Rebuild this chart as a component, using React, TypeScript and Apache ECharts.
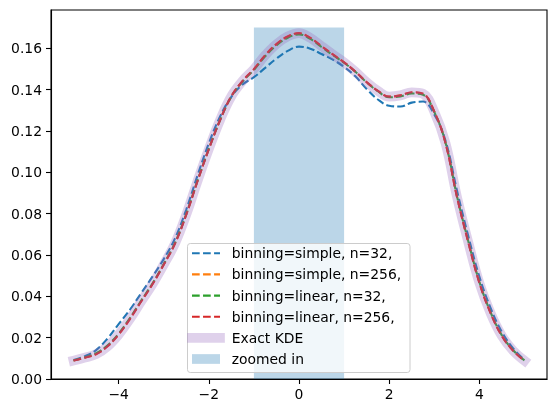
import React, { useEffect, useRef } from "react";
import * as echarts from "echarts";

const xs = [
  -5, -4.75, -4.5, -4.25, -4, -3.75, -3.5, -3.25, -3, -2.75, -2.5, -2.25, -2, -1.75, -1.5, -1.25, -1, -0.75, -0.5, -0.25,
  0, 0.25, 0.5, 0.75, 1, 1.25, 1.5, 1.75, 2, 2.25, 2.5, 2.75, 3, 3.25, 3.5, 3.75, 4, 4.25, 4.5, 4.75, 5,
];

const exactKde = [
  0.0089, 0.0103, 0.012, 0.0157, 0.0215, 0.029, 0.0375, 0.0458, 0.0553, 0.0655, 0.0795, 0.0958, 0.1112, 0.1253, 0.1368, 0.1442, 0.1499, 0.1566, 0.162, 0.1657,
  0.1673, 0.165, 0.161, 0.157, 0.1532, 0.1487, 0.1436, 0.1394, 0.1366, 0.1372, 0.1387, 0.138, 0.1293, 0.114, 0.0884, 0.0665, 0.0465, 0.0318, 0.0208, 0.0137, 0.0089,
];

const simple32 = [
  0.0092, 0.011, 0.014, 0.0195, 0.0265, 0.0335, 0.0415, 0.0495, 0.058, 0.068, 0.082, 0.0985, 0.114, 0.127, 0.1365, 0.1425, 0.146, 0.1505, 0.155, 0.1587,
  0.1608, 0.1598, 0.1572, 0.1545, 0.151, 0.1464, 0.1403, 0.1352, 0.1322, 0.1318, 0.1337, 0.1342, 0.128, 0.1152, 0.0915, 0.0695, 0.0495, 0.0343, 0.0227, 0.0148, 0.0093,
];

const simple256 = [
  0.0089, 0.0103, 0.0121, 0.0158, 0.0216, 0.0291, 0.0376, 0.0459, 0.0554, 0.0656, 0.0796, 0.0958, 0.1112, 0.1253, 0.1368, 0.1442, 0.1499, 0.1566, 0.162, 0.1657,
  0.1672, 0.165, 0.161, 0.157, 0.1532, 0.1487, 0.1436, 0.1394, 0.1366, 0.1372, 0.1386, 0.138, 0.1294, 0.1141, 0.0885, 0.0666, 0.0466, 0.0319, 0.0209, 0.0137, 0.0089,
];

const linear32 = [
  0.009, 0.0105, 0.0125, 0.0162, 0.022, 0.0295, 0.0379, 0.0462, 0.0556, 0.0658, 0.0798, 0.096, 0.1113, 0.1252, 0.1366, 0.1439, 0.1495, 0.1561, 0.1614, 0.1651,
  0.1667, 0.1645, 0.1606, 0.1567, 0.153, 0.1486, 0.1435, 0.1392, 0.1363, 0.1367, 0.1381, 0.1375, 0.1292, 0.1143, 0.0888, 0.067, 0.047, 0.0322, 0.0211, 0.0139, 0.009,
];

const linear256 = [
  0.0089, 0.0103, 0.012, 0.0157, 0.0215, 0.029, 0.0375, 0.0458, 0.0553, 0.0655, 0.0795, 0.0958, 0.1112, 0.1253, 0.1368, 0.1442, 0.1499, 0.1566, 0.162, 0.1657,
  0.1673, 0.165, 0.161, 0.157, 0.1532, 0.1487, 0.1436, 0.1394, 0.1366, 0.1372, 0.1387, 0.138, 0.1293, 0.114, 0.0884, 0.0665, 0.0465, 0.0318, 0.0208, 0.0137, 0.0089,
];

const zoomStart = -1;
const zoomEnd = 1;
const zoomTop = 0.17;

const xTicks = [-4, -2, 0, 2, 4];
const yTicks = [0, 0.02, 0.04, 0.06, 0.08, 0.1, 0.12, 0.14, 0.16];

const dashedNames = [
  "binning=simple, n=32,",
  "binning=simple, n=256,",
  "binning=linear, n=32,",
  "binning=linear, n=256,",
];
const exactName = "Exact KDE";
const zoomName = "zoomed in";

const dashedColors = ["#1f77b4", "#ff7f0e", "#2ca02c", "#d62728"];
const lavender = "rgba(148,103,189,0.3)";
const spanColor = "rgba(31,119,180,0.3)";
const FONT = "DejaVu Sans";
const FS = 13.9;
const LW = 2.08;
const DASH = [7.7, 3.33];
const EXACT_LW = 9.7;

export default function App() {
  const ref = useRef<HTMLDivElement>(null);
  useEffect(() => {
    if (!ref.current) return;
    const chart = echarts.init(ref.current, null, { renderer: "svg" });
    const dashedData = [simple32, simple256, linear32, linear256];
    const pairs = (ys: number[]) => xs.map((x, i) => [x, ys[i]]);

    const legendX = 187.5;
    const legendY = 243.5;
    const rowY = [253.3, 274.4, 295.6, 316.7, 337.9, 359.0];
    const handleX0 = 192;
    const handleX1 = 220;
    const textX = 231.7;

    const graphic: any[] = [
      {
        type: "rect",
        shape: { x: legendX, y: legendY, width: 222.5, height: 129, r: 2.8 },
        style: { fill: "rgba(255,255,255,0.8)", stroke: "#cccccc", lineWidth: 1 },
        z: 100,
      },
    ];
    dashedNames.forEach((name, i) => {
      graphic.push({
        type: "line",
        shape: { x1: handleX0, y1: rowY[i], x2: handleX1, y2: rowY[i] },
        style: { stroke: dashedColors[i], lineWidth: LW, lineDash: DASH },
        z: 101,
      });
      graphic.push({
        type: "text",
        x: textX,
        y: rowY[i],
        style: { text: name, fill: "#000", font: `${FS}px "${FONT}"`, textVerticalAlign: "middle" },
        z: 101,
      });
    });
    graphic.push({
      type: "line",
      shape: { x1: handleX0 - EXACT_LW / 2, y1: rowY[4], x2: handleX1 + EXACT_LW / 2, y2: rowY[4] },
      style: { stroke: lavender, lineWidth: EXACT_LW },
      z: 101,
    });
    graphic.push({
      type: "text",
      x: textX,
      y: rowY[4],
      style: { text: exactName, fill: "#000", font: `${FS}px "${FONT}"`, textVerticalAlign: "middle" },
      z: 101,
    });
    graphic.push({
      type: "rect",
      shape: { x: handleX0, y: rowY[5] - 4.85, width: handleX1 - handleX0, height: 9.7 },
      style: { fill: spanColor },
      z: 101,
    });
    graphic.push({
      type: "text",
      x: textX,
      y: rowY[5],
      style: { text: zoomName, fill: "#000", font: `${FS}px "${FONT}"`, textVerticalAlign: "middle" },
      z: 101,
    });

    const series: any[] = [
      {
        type: "line",
        name: zoomName,
        data: [],
        z: 1,
        markArea: {
          silent: true,
          itemStyle: { color: spanColor },
          data: [[{ coord: [zoomStart, 0] }, { coord: [zoomEnd, zoomTop] }]],
        },
      },
    ];
    dashedNames.forEach((name, i) => {
      series.push({
        type: "line",
        name,
        data: pairs(dashedData[i]),
        showSymbol: false,
        symbol: "none",
        smooth: 0.4,
        z: 2,
        lineStyle: { color: dashedColors[i], width: LW, type: DASH },
      });
    });
    series.push({
      type: "line",
      name: exactName,
      data: pairs(exactKde),
      showSymbol: false,
      symbol: "none",
      smooth: 0.4,
      z: 2,
      lineStyle: { color: lavender, width: EXACT_LW, cap: "square" },
    });

    chart.setOption({
      animation: false,
      textStyle: { fontFamily: FONT },
      grid: {
        left: 51,
        top: 10,
        right: 9,
        bottom: 34,
        show: true,
        borderColor: "#000",
        borderWidth: 1.1,
        backgroundColor: "transparent",
      },
      xAxis: {
        type: "value",
        min: -5.5,
        max: 5.5,
        splitLine: { show: false },
        axisLine: { show: true, onZero: false, lineStyle: { color: "#000", width: 1.1 } },
        axisTick: { show: true, length: 5, lineStyle: { color: "#000", width: 1.1 }, customValues: xTicks },
        axisLabel: {
          color: "#000",
          fontSize: FS,
          fontFamily: FONT,
          margin: 8,
          customValues: xTicks,
          formatter: (v: number) => (v < 0 ? "\u2212" + Math.abs(v) : String(v)),
        },
      },
      yAxis: {
        type: "value",
        min: 0,
        max: 0.1785,
        splitLine: { show: false },
        axisLine: { show: true, onZero: false, lineStyle: { color: "#000", width: 1.1 } },
        axisTick: { show: true, length: 5, lineStyle: { color: "#000", width: 1.1 }, customValues: yTicks },
        axisLabel: {
          color: "#000",
          fontSize: FS,
          fontFamily: FONT,
          margin: 9,
          customValues: yTicks,
          formatter: (v: number) => v.toFixed(2),
        },
      },
      series,
      graphic,
    });
    return () => chart.dispose();
  }, []);
  return <div ref={ref} style={{ position: "fixed", left: 0, top: 0, width: 556, height: 413 }} />;
}
